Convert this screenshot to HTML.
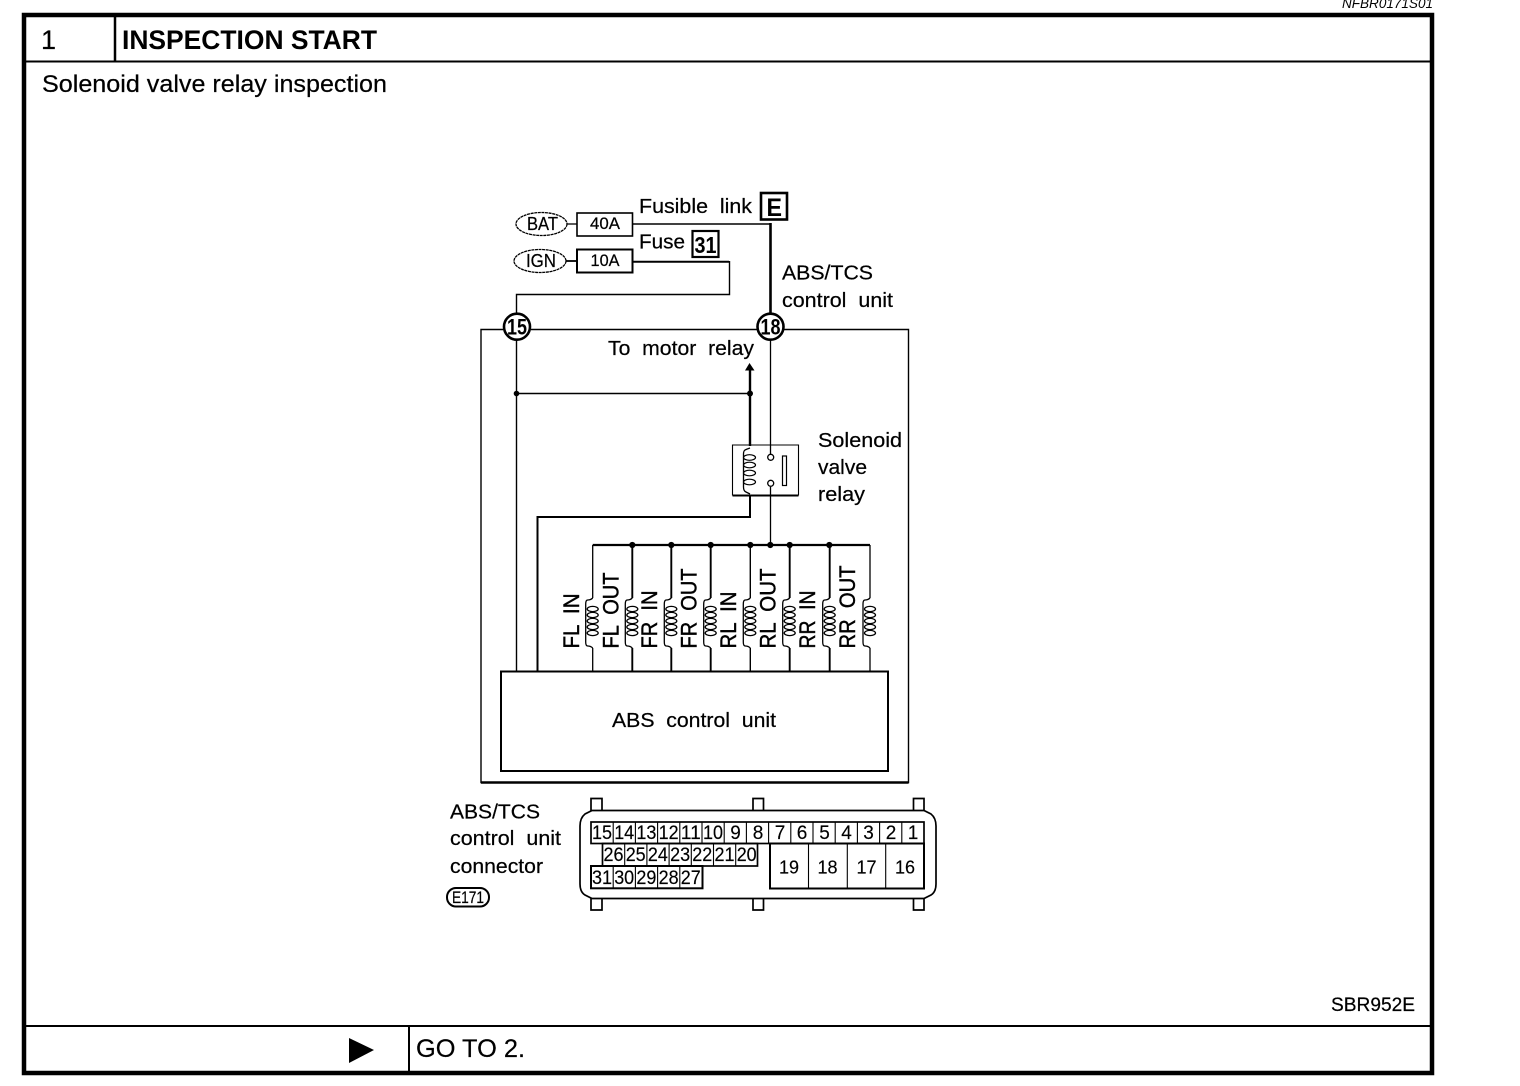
<!DOCTYPE html>
<html>
<head>
<meta charset="utf-8">
<style>
html,body{margin:0;padding:0;background:#fff}
svg{display:block}
text{font-family:"Liberation Sans",Arial,sans-serif;fill:#000;white-space:pre;stroke:#000;stroke-width:.22px}
text.b{stroke-width:0}
text.h{stroke-width:.45px}
.cell text{font-size:19px;text-anchor:middle;stroke-width:.15px}
</style>
</head>
<body>
<svg xmlns="http://www.w3.org/2000/svg" width="1520" height="1086" viewBox="0 0 1520 1086">
<defs>
<g id="coil" fill="none" stroke="#000" stroke-width="1.3">
<path d="M0 598 Q-2 600 -5 600 Q-7 600 -7 604 V642 Q-7 646 -5 646 Q-2 646 0 648"/>
<ellipse cx="0" cy="609" rx="5.5" ry="2.6"/>
<ellipse cx="0" cy="615" rx="5.5" ry="2.6"/>
<ellipse cx="0" cy="621" rx="5.5" ry="2.6"/>
<ellipse cx="0" cy="627" rx="5.5" ry="2.6"/>
<ellipse cx="0" cy="633" rx="5.5" ry="2.6"/>
</g>
</defs>

<!-- Frame -->
<rect x="24" y="15" width="1408" height="1058" fill="none" stroke="#000" stroke-width="4.5"/>
<path d="M24 61.5H1432" stroke="#000" stroke-width="2"/>
<path d="M115 15V61" stroke="#000" stroke-width="2.5"/>
<path d="M24 1026H1432" stroke="#000" stroke-width="2"/>
<path d="M409 1026V1073" stroke="#000" stroke-width="2"/>

<text class="b" x="1342" y="8" font-size="14" font-style="italic" textLength="91" lengthAdjust="spacingAndGlyphs">NFBR0171S01</text>
<text x="41" y="49" font-size="27">1</text>
<text class="b" x="122" y="49" font-size="27" font-weight="bold" textLength="255" lengthAdjust="spacingAndGlyphs">INSPECTION START</text>
<text x="42" y="92" font-size="24" textLength="345" lengthAdjust="spacingAndGlyphs">Solenoid valve relay inspection</text>
<text x="1331" y="1011" font-size="19" textLength="84" lengthAdjust="spacingAndGlyphs">SBR952E</text>
<text x="416" y="1057" font-size="25" textLength="109" lengthAdjust="spacingAndGlyphs">GO TO 2.</text>
<polygon points="349,1038 374,1050 349,1063" fill="#000"/>

<!-- Top supply -->
<g fill="none" stroke="#000">
<ellipse cx="541.5" cy="224" rx="25.5" ry="11.5" stroke-width="1.3" stroke-dasharray="3 .6"/>
<ellipse cx="540" cy="261" rx="26" ry="11.5" stroke-width="1.3" stroke-dasharray="3 .6"/>
<rect x="577" y="213" width="55.5" height="23" stroke-width="1.6"/>
<rect x="577" y="249.5" width="55.5" height="23" stroke-width="2"/>
<path d="M567 224H577" stroke-width="1.3"/>
<path d="M566 261H577" stroke-width="1.8"/>
<path d="M632.5 224H770.5" stroke-width="1.4"/>
<path d="M770.5 223V314" stroke-width="2.6"/>
<path d="M632.5 261.7H729.5V294.5H516.5V314" stroke-width="1.4"/>
<path d="M632.5 261.7H729" stroke-width="2"/>
<rect x="761" y="193" width="26" height="26.5" stroke-width="2.6"/>
<rect x="692.5" y="231" width="26" height="26" stroke-width="2.2"/>

<!-- Enclosure -->
<path d="M503 329.5H481V782.5H908.5V329.5H784" stroke-width="1.4"/>
<path d="M481 782.5H908.5" stroke-width="2.4"/>
<path d="M531 329.5H757" stroke-width="1.4"/>

<!-- Internal wires -->
<path d="M516.5 340V671" stroke-width="1.4"/>
<path d="M516.5 393.5H750" stroke-width="1.4"/>
<path d="M750 368V446" stroke-width="2.4"/>
<path d="M770.5 340V454" stroke-width="1.3"/>
<path d="M770.5 487V545" stroke-width="1.3"/>
<path d="M750 495V517H537.5V671" stroke-width="2"/>
<path d="M537.5 517V671" stroke-width="1.4"/>
<path d="M592.7 671V648M592.7 598V545M870 545V598M870 648V671" stroke-width="1.3"/>
<path d="M592.7 545H870" stroke-width="2.2"/>
<path d="M632.3 545V598M632.3 648V671M671.3 545V598M671.3 648V671M710.7 545V598M710.7 648V671M789.7 545V598M789.7 648V671M829.7 545V598M829.7 648V671" stroke-width="1.9"/>
<path d="M750.3 545V598M750.3 648V671" stroke-width="1.4"/>

<!-- Relay -->
<path d="M732.5 495.5V445H798.5V495.5" stroke-width="1.1"/>
<path d="M732.5 495.5H798.5" stroke-width="2"/>
<path d="M750 448 Q747 449 745 450 Q743.5 451 743.5 454 V487 Q743.5 491 746 492 L750 494" stroke-width="1.3"/>
<ellipse cx="749.5" cy="457.5" rx="6" ry="2.8" stroke-width="1.2"/>
<ellipse cx="749.5" cy="465" rx="6" ry="2.8" stroke-width="1.2"/>
<ellipse cx="749.5" cy="473" rx="6" ry="2.8" stroke-width="1.2"/>
<ellipse cx="749.5" cy="482" rx="6" ry="2.8" stroke-width="1.2"/>
<circle cx="770.7" cy="457.3" r="3" fill="#fff" stroke-width="1.3"/>
<circle cx="770.7" cy="483.3" r="3" fill="#fff" stroke-width="1.3"/>
<rect x="782.5" y="456" width="4" height="29.5" stroke-width="1.2"/>

<!-- ABS unit -->
<rect x="501" y="671.5" width="387" height="99.5" stroke-width="2"/>
</g>

<polygon points="749.5,363 754.5,370.5 745,370.5" fill="#000"/>
<g fill="#000">
<circle cx="516.5" cy="393.5" r="2.8"/>
<circle cx="750" cy="393.5" r="3"/>
<circle cx="632.3" cy="545" r="3.1"/>
<circle cx="671.3" cy="545" r="3.1"/>
<circle cx="710.7" cy="545" r="3.1"/>
<circle cx="750.3" cy="545" r="3.1"/>
<circle cx="770.3" cy="545" r="3.1"/>
<circle cx="789.7" cy="545" r="3.1"/>
<circle cx="829.3" cy="545" r="3.1"/>
</g>

<!-- Terminals -->
<circle cx="517" cy="326.7" r="13" fill="#fff" stroke="#000" stroke-width="2.6"/>
<circle cx="770.5" cy="326.7" r="13" fill="#fff" stroke="#000" stroke-width="2.6"/>
<text class="b" x="507" y="334.5" font-size="22" font-weight="bold" textLength="20" lengthAdjust="spacingAndGlyphs">15</text>
<text class="b" x="760.5" y="334.5" font-size="22" font-weight="bold" textLength="20" lengthAdjust="spacingAndGlyphs">18</text>

<!-- Coils -->
<use href="#coil" x="592.7"/>
<use href="#coil" x="632.3"/>
<use href="#coil" x="671.3"/>
<use href="#coil" x="710.7"/>
<use href="#coil" x="750.3"/>
<use href="#coil" x="789.7"/>
<use href="#coil" x="829.7"/>
<use href="#coil" x="870"/>

<!-- Diagram labels -->
<text x="527" y="230" font-size="18" textLength="31" lengthAdjust="spacingAndGlyphs">BAT</text>
<text x="526" y="267" font-size="18" textLength="30" lengthAdjust="spacingAndGlyphs">IGN</text>
<text x="590" y="229" font-size="17" textLength="30" lengthAdjust="spacingAndGlyphs">40A</text>
<text x="590.5" y="266" font-size="17" textLength="29" lengthAdjust="spacingAndGlyphs">10A</text>
<text x="639" y="213" font-size="20.5" textLength="113" lengthAdjust="spacingAndGlyphs">Fusible  link</text>
<text x="639" y="248.5" font-size="20.5" textLength="46" lengthAdjust="spacingAndGlyphs">Fuse</text>
<text class="b" x="766.5" y="216" font-size="25" font-weight="bold" textLength="15.5" lengthAdjust="spacingAndGlyphs">E</text>
<text class="b" x="694.5" y="253" font-size="23" font-weight="bold" textLength="22" lengthAdjust="spacingAndGlyphs">31</text>
<text x="782" y="279.5" font-size="20.5" textLength="91" lengthAdjust="spacingAndGlyphs">ABS/TCS</text>
<text x="782" y="307" font-size="20.5" textLength="111" lengthAdjust="spacingAndGlyphs">control  unit</text>
<text x="608" y="355" font-size="20.5" textLength="146" lengthAdjust="spacingAndGlyphs">To  motor  relay</text>
<text x="818" y="447" font-size="20.5" textLength="84" lengthAdjust="spacingAndGlyphs">Solenoid</text>
<text x="818" y="474" font-size="20.5" textLength="49" lengthAdjust="spacingAndGlyphs">valve</text>
<text x="818" y="501" font-size="20.5" textLength="47" lengthAdjust="spacingAndGlyphs">relay</text>
<text x="612" y="727" font-size="20.5" textLength="164" lengthAdjust="spacingAndGlyphs">ABS  control  unit</text>

<text class="h" transform="translate(579,648.5) rotate(-90)" font-size="22" textLength="55" lengthAdjust="spacingAndGlyphs">FL  IN</text>
<text class="h" transform="translate(618.5,648.5) rotate(-90)" font-size="22" textLength="76" lengthAdjust="spacingAndGlyphs">FL  OUT</text>
<text class="h" transform="translate(657,648.5) rotate(-90)" font-size="22" textLength="58" lengthAdjust="spacingAndGlyphs">FR  IN</text>
<text class="h" transform="translate(696.5,648.5) rotate(-90)" font-size="22" textLength="80" lengthAdjust="spacingAndGlyphs">FR  OUT</text>
<text class="h" transform="translate(736,648.5) rotate(-90)" font-size="22" textLength="57" lengthAdjust="spacingAndGlyphs">RL  IN</text>
<text class="h" transform="translate(775.5,648.5) rotate(-90)" font-size="22" textLength="80" lengthAdjust="spacingAndGlyphs">RL  OUT</text>
<text class="h" transform="translate(815,648.5) rotate(-90)" font-size="22" textLength="58" lengthAdjust="spacingAndGlyphs">RR  IN</text>
<text class="h" transform="translate(855,648.5) rotate(-90)" font-size="22" textLength="83" lengthAdjust="spacingAndGlyphs">RR  OUT</text>

<!-- Connector -->
<text x="450" y="818.5" font-size="20.5" textLength="90" lengthAdjust="spacingAndGlyphs">ABS/TCS</text>
<text x="450" y="845" font-size="20.5" textLength="111" lengthAdjust="spacingAndGlyphs">control  unit</text>
<text x="450" y="873" font-size="20.5" textLength="93" lengthAdjust="spacingAndGlyphs">connector</text>
<rect x="447" y="888" width="42" height="18.5" rx="9" fill="none" stroke="#000" stroke-width="2"/>
<text x="452" y="903" font-size="17" textLength="32" lengthAdjust="spacingAndGlyphs">E171</text>

<g fill="none" stroke="#000" stroke-width="1.7">
<path d="M591 810.5V798.5H602V810.5M753 810.5V798.5H763.5V810.5M913.5 810.5V798.5H924V810.5"/>
<path d="M591 898.5V910H602V898.5M753 898.5V910H763.5V898.5M913.5 898.5V910H924V898.5"/>
<path d="M592 810.5H924 L931 814 Q936 818 936 826V884 Q936 892 931 895 L924 898.5H592 L585 895 Q580 892 580 884V826 Q580 818 585 814Z"/>
<rect x="591" y="822" width="333" height="21.5"/>
<rect x="602.5" y="843.5" width="155" height="22.5"/>
<rect x="591" y="866" width="111.5" height="22.3" stroke-width="2"/>
<rect x="770" y="843.5" width="154" height="45" stroke-width="2"/>
<path d="M613.2 822V843.5M635.4 822V843.5M657.6 822V843.5M679.8 822V843.5M702 822V843.5M724.2 822V843.5M746.4 822V843.5M768.6 822V843.5M790.8 822V843.5M813 822V843.5M835.2 822V843.5M857.4 822V843.5M879.6 822V843.5M901.8 822V843.5" stroke-width="1.1"/>
<path d="M624.7 843.5V866M646.9 843.5V866M669.1 843.5V866M691.3 843.5V866M713.5 843.5V866M735.7 843.5V866" stroke-width="1.1"/>
<path d="M613.2 866V888M635.4 866V888M657.6 866V888M679.8 866V888" stroke-width="1.1"/>
<path d="M808.5 843.5V888.3M847.3 843.5V888.3M885.7 843.5V888.3" stroke-width="1.1"/>
</g>
<g class="cell">
<text x="602" y="839" textLength="20" lengthAdjust="spacingAndGlyphs">15</text>
<text x="624.2" y="839" textLength="20" lengthAdjust="spacingAndGlyphs">14</text>
<text x="646.4" y="839" textLength="20" lengthAdjust="spacingAndGlyphs">13</text>
<text x="668.6" y="839" textLength="20" lengthAdjust="spacingAndGlyphs">12</text>
<text x="690.8" y="839" textLength="20" lengthAdjust="spacingAndGlyphs">11</text>
<text x="713" y="839" textLength="20" lengthAdjust="spacingAndGlyphs">10</text>
<text x="735.5" y="839">9</text>
<text x="758" y="839">8</text>
<text x="780" y="839">7</text>
<text x="802" y="839">6</text>
<text x="824.5" y="839">5</text>
<text x="846.5" y="839">4</text>
<text x="868.5" y="839">3</text>
<text x="891" y="839">2</text>
<text x="913" y="839">1</text>
<text x="613.5" y="861" textLength="20" lengthAdjust="spacingAndGlyphs">26</text>
<text x="635.7" y="861" textLength="20" lengthAdjust="spacingAndGlyphs">25</text>
<text x="657.9" y="861" textLength="20" lengthAdjust="spacingAndGlyphs">24</text>
<text x="680.1" y="861" textLength="20" lengthAdjust="spacingAndGlyphs">23</text>
<text x="702.3" y="861" textLength="20" lengthAdjust="spacingAndGlyphs">22</text>
<text x="724.5" y="861" textLength="20" lengthAdjust="spacingAndGlyphs">21</text>
<text x="746.7" y="861" textLength="20" lengthAdjust="spacingAndGlyphs">20</text>
<text x="602" y="884" textLength="20" lengthAdjust="spacingAndGlyphs">31</text>
<text x="624.2" y="884" textLength="20" lengthAdjust="spacingAndGlyphs">30</text>
<text x="646.4" y="884" textLength="20" lengthAdjust="spacingAndGlyphs">29</text>
<text x="668.6" y="884" textLength="20" lengthAdjust="spacingAndGlyphs">28</text>
<text x="690.8" y="884" textLength="20" lengthAdjust="spacingAndGlyphs">27</text>
<text x="789" y="873.5" style="font-size:18px">19</text>
<text x="827.5" y="873.5" style="font-size:18px">18</text>
<text x="866.5" y="873.5" style="font-size:18px">17</text>
<text x="905" y="873.5" style="font-size:18px">16</text>
</g>
</svg>
</body>
</html>
